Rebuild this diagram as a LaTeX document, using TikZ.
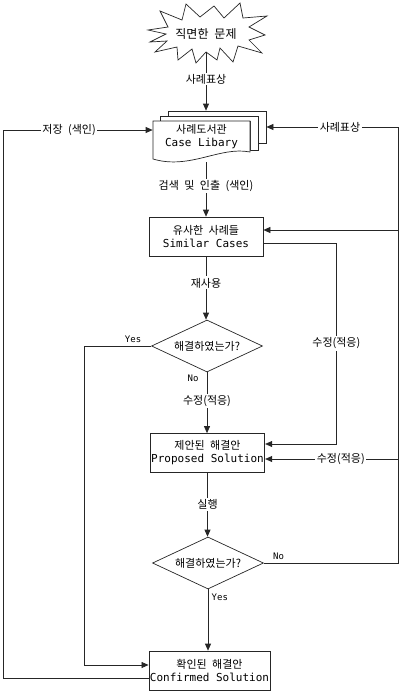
\documentclass[tikz,border=0pt]{standalone}
\usepackage{fontspec}
\setmainfont{Noto Sans CJK KR}[WordSpace=2.2]
\newfontfamily\lat{DejaVu Sans Mono}
\usetikzlibrary{arrows.meta,shapes.geometric}
\begin{document}
\begin{tikzpicture}[x=1pt,y=-1pt,
  line width=0.7pt,
  every node/.style={font=\fontsize{11}{13}\selectfont},
  arr/.style={draw=black!85,-{Triangle[length=7pt,width=6pt]}},
  box/.style={draw=black!85,rectangle,minimum width=113pt,minimum height=39pt,align=center,inner sep=1pt,fill=white},
  dia/.style={draw=black!85,diamond,minimum width=111pt,minimum height=52pt,inner sep=0pt},
  lbl/.style={fill=white,inner sep=1.5pt},
  yn/.style={font=\lat\fontsize{9}{10}\selectfont},
  page/.style={draw=black!85,fill=white,line join=miter},
]
\useasboundingbox (0,0) rectangle (406,693);

% starburst
\draw[draw=black!85,fill=white,line join=miter]
  (148,30) -- (168,27) -- (160,11) -- (182,20) -- (186,4) -- (200,17) -- (214,6)
  -- (224,18) -- (240,3) -- (243,18) -- (267,16) -- (249,27) -- (265,35) -- (249,40)
  -- (262,53) -- (238,46) -- (233,62) -- (220,48) -- (217,60) -- (206,52)
  -- (196,63) -- (192,49) -- (178,60) -- (177,47) -- (155,52) -- (167,41)
  -- (150,42) -- (166,34) -- cycle;
\node[font=\fontsize{12}{14}\selectfont] (star) at (206,34) {직면한 문제};
\coordinate (starbot) at (206,52);

% case library (stack of documents)
\node[minimum width=98pt,minimum height=32pt,inner sep=0pt] (libback) at (217,127) {};
\path[page] (168,111) -- (266,111) -- (266,143) -- (258,143) -- (258,116) -- (168,116) -- cycle;
\path[page] (160,116) -- (258,116) -- (258,150) -- (250,150) -- (250,121) -- (160,121) -- cycle;
\path[page] (153,121) -- (250,121) -- (250,152)
   .. controls (220,146) and (190,170) .. (153,159) -- cycle;
\node[minimum width=97pt,minimum height=41pt,inner sep=0pt] (lib) at (201.5,141.5) {};
\node[align=center] at (201.5,137) {사례도서관\\{\lat Case Libary}};

% flow boxes
\node[box,minimum width=114pt] (sim) at (206,236.5) {유사한 사례들\\{\lat Similar Cases}};
\node[dia] (d1) at (207,346) {};
\node at (207,346) {해결하였는가?};
\node[box] (prop) at (207.5,453) {제안된 해결안\\{\lat Proposed Solution}};
\node[dia] (d2) at (208,563) {};
\node at (208,563) {해결하였는가?};
\node[box] (conf) at (209.5,670.5) {확인된 해결안\\{\lat Confirmed Solution}};

% main vertical flow
\draw[arr] (starbot) -- node[lbl,pos=0.46]{사례표상} (starbot |- libback.north);
\draw[arr] (sim.north |- lib.south) -- node[lbl,pos=0.43]{검색 및 인출 (색인)} (sim.north);
\draw[arr] (sim.south) -- node[lbl,pos=0.42]{재사용} (sim.south |- d1.north);
\draw[arr] (d1.south) -- node[lbl,pos=0.47]{수정(적응)} (d1.south |- prop.north);
\node[yn] at (193,378) {No};
\draw[arr] (prop.south) -- node[lbl,pos=0.5]{실행} (prop.south |- d2.north);
\draw[arr] (d2.south) -- node[right,pos=0.13,yn]{Yes} (d2.south |- conf.north);

% yes branch of first decision
\path ([yshift=5.5pt]conf.west) coordinate (confin);
\draw[arr] (d1.west) -- node[above,pos=0.27,yn]{Yes} ++(-67,0) |- (confin);

% storage loop
\path ([yshift=-7.5pt]conf.west) coordinate (confout);
\path ([yshift=11.5pt]lib.west) coordinate (libin);
\draw[arr] (confout) -- ++(-145,0) |- node[lbl,pos=0.72]{저장 (색인)} (libin);

% right loop from second decision
\draw[arr] (d2.east) -- node[above,pos=0.11,yn]{No} ++(134,0) coordinate (R)
   |- node[lbl,pos=0.72]{사례표상} (libback.east);
\path ([yshift=6.5pt]sim.east) coordinate (simin);
\draw[arr] (R |- simin) -- (simin);
\path ([yshift=-6pt]prop.east) coordinate (propin2);
\draw[arr] (R |- propin2) -- node[lbl,pos=0.43]{수정(적응)} (propin2);

% similar cases -> proposed solution
\path ([yshift=-6.5pt]sim.east) coordinate (simout);
\path ([yshift=9pt]prop.east) coordinate (propin1);
\draw[arr] (simout) -- ++(73,0) |- node[lbl,pos=0.25]{수정(적응)} (propin1);
\end{tikzpicture}
\end{document}
